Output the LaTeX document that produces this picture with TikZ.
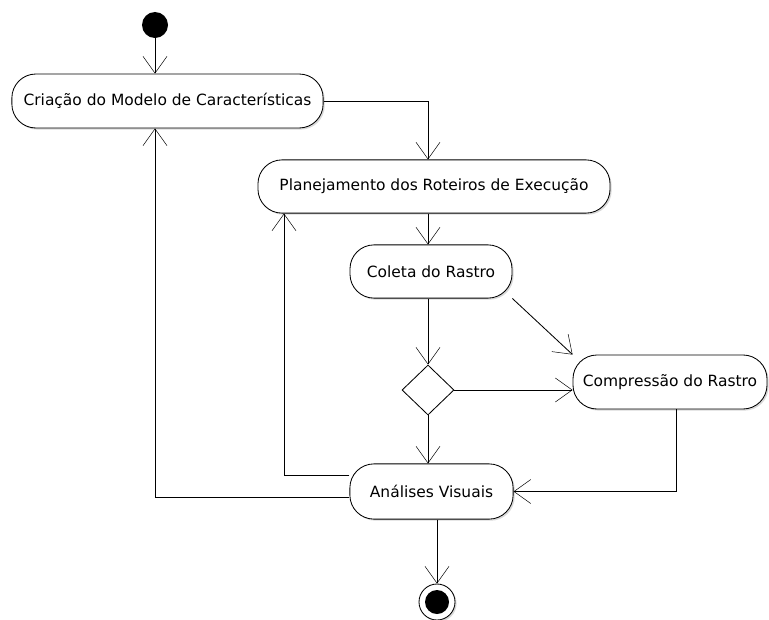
\documentclass[tikz,border=0pt]{standalone}
\usepackage{fontspec}
\setmainfont{DejaVu Sans}
\usepackage{tikz}
\usetikzlibrary{arrows.meta,shapes,shadows}
\tikzstyle{acao}=[draw,fill=white,rounded corners=6mm,inner sep=0pt,font=\fontsize{11}{13}\selectfont,drop shadow={shadow xshift=0.4mm,shadow yshift=-0.4mm,opacity=0.3}]
\tikzstyle{decisao}=[diamond,draw,fill=white,minimum width=1.3cm,minimum height=1.25cm,inner sep=0pt]
\tikzstyle{inicio}=[circle,fill=black,minimum size=0.65cm,inner sep=0pt]
\tikzstyle{fim}=[circle,draw,fill=white,minimum size=0.9cm,inner sep=0pt,drop shadow={shadow xshift=0.4mm,shadow yshift=-0.4mm,opacity=0.3}]

\begin{document}
\begin{tikzpicture}[x=0.025cm,y=-0.025cm,line width=0.6pt]
      \tikzset{edge/.style = {->,>={Straight Barb[length=4.2mm,width=6mm,line width=0.35pt]}}}
      \useasboundingbox (0,0) rectangle (769,619);
      \coordinate (eixo) at (428,0);
      \coordinate (volta1) at (284,0);
      \coordinate (volta2) at (155,0);
      \node[inicio] (ini) at (155,25) {};
      \node[acao,minimum width=7.78cm,minimum height=1.35cm] (cmc) at (167.5,101) {Criação do Modelo de Características};
      \node[acao,minimum width=8.8cm,minimum height=1.33cm] (plan) at (434,186.5) {Planejamento dos Roteiros de Execução};
      \node[acao,minimum width=4.05cm,minimum height=1.33cm] (col) at (431,271.5) {Coleta do Rastro};
      \node[decisao] (dec) at (428,390) {};
      \node[acao,minimum width=4.85cm,minimum height=1.35cm] (comp) at (670,382) {Compressão do Rastro};
      \node[acao,minimum width=4.08cm,minimum height=1.38cm] (ana) at (431.5,491.5) {Análises Visuais};
      \node[fim] (fim) at (437,602) {};
      \node[circle,fill=black,minimum size=0.6cm,inner sep=0pt] (fimc) at (fim) {};
      \draw[edge] (ini) to (ini |- cmc.north);
      \draw[edge] (cmc.east) -| (eixo |- plan.north);
      \draw[edge] (eixo |- plan.south) to (eixo |- col.north);
      \draw[edge] (eixo |- col.south) to (dec.north);
      \draw[edge] (col.south east) to (comp.north west);
      \draw[edge] (dec.east) to (dec.east -| comp.west);
      \draw[edge] (dec.south) to (eixo |- ana.north);
      \draw[edge] ([xshift=1.5mm]comp.south) |- (ana.east);
      \draw[edge] ([yshift=3.9mm]ana.west) -| (volta1 |- plan.south);
      \draw[edge] ([yshift=-1.6mm]ana.west) -| (volta2 |- cmc.south);
      \draw[edge] (fim |- ana.south) to (fim);
      \end{tikzpicture}
\end{document}
